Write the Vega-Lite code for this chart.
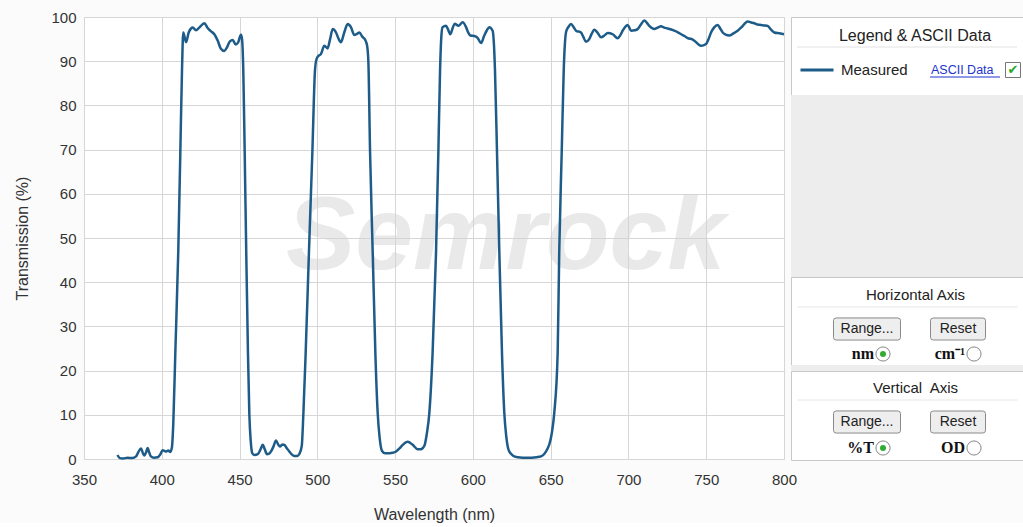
{
  "$schema": "https://vega.github.io/schema/vega-lite/v6.json",
  "background": "#fbfbfb",
  "padding": {"left": 14, "top": 9, "right": 0, "bottom": 0},
  "bounds": "flush",
  "spacing": 7,
  "config": {
    "font": "Liberation Sans",
    "view": {"stroke": null},
    "scale": {"pointPadding": 0},
    "axis": {
      "labelFont": "Liberation Sans", "labelFontSize": 15, "labelColor": "#333333",
      "titleFont": "Liberation Sans", "titleFontSize": 16, "titleFontWeight": "normal", "titleColor": "#333333",
      "grid": true, "gridColor": "#d6d6d6", "gridWidth": 1, "domain": false, "ticks": false,
      "labelFlush": false, "labelOverlap": false, "labelBound": false
    },
    "text": {"font": "Liberation Sans"}
  },
  "datasets": {
    "spectrum": [
      {"wl":371.5,"T":0.9},{"wl":373,"T":0.2},{"wl":375,"T":0.1},{"wl":378,"T":0.3},{"wl":381,"T":0.2},
      {"wl":383.5,"T":0.6},{"wl":385,"T":1.6},{"wl":386.6,"T":2.4},{"wl":388,"T":1.2},{"wl":388.8,"T":0.8},
      {"wl":390,"T":1.6},{"wl":390.9,"T":2.5},{"wl":392,"T":1.4},{"wl":393,"T":0.6},{"wl":395,"T":0.3},
      {"wl":397.4,"T":0.4},{"wl":399,"T":1.0},{"wl":400.6,"T":2.0},{"wl":402.5,"T":1.7},{"wl":404.2,"T":1.9},
      {"wl":405.5,"T":1.6},{"wl":406.5,"T":2.6},{"wl":407.4,"T":8},{"wl":408.7,"T":24},{"wl":410.6,"T":47},
      {"wl":411.9,"T":69},{"wl":413,"T":88},{"wl":413.8,"T":96.5},{"wl":415.6,"T":94.3},{"wl":417.3,"T":96.5},
      {"wl":418.8,"T":97.4},{"wl":420,"T":97.6},{"wl":422,"T":97.0},{"wl":424.1,"T":97.6},{"wl":427.4,"T":98.6},
      {"wl":429.5,"T":97.5},{"wl":431.5,"T":96.8},{"wl":433.8,"T":96.1},{"wl":436,"T":94.6},{"wl":438,"T":92.8},
      {"wl":440.2,"T":92.3},{"wl":442,"T":93.2},{"wl":443.8,"T":94.5},{"wl":445.6,"T":94.8},{"wl":447.5,"T":93.8},
      {"wl":449,"T":94.2},{"wl":450.9,"T":96.0},{"wl":451.6,"T":95.0},{"wl":452.4,"T":88},{"wl":453.3,"T":69.4},
      {"wl":454.3,"T":46.7},{"wl":455.4,"T":24},{"wl":456.3,"T":10},{"wl":457.2,"T":4},{"wl":458.2,"T":1.3},
      {"wl":459.5,"T":0.9},{"wl":461.7,"T":1.1},{"wl":463.5,"T":2.2},{"wl":464.9,"T":3.2},{"wl":466.2,"T":2.2},
      {"wl":467.6,"T":1.1},{"wl":469,"T":1.2},{"wl":470.2,"T":1.7},{"wl":472,"T":3.0},{"wl":473.4,"T":4.2},
      {"wl":474.8,"T":3.3},{"wl":476,"T":2.8},{"wl":477.5,"T":3.3},{"wl":478.8,"T":3.2},{"wl":480.5,"T":2.4},
      {"wl":482,"T":1.7},{"wl":483.7,"T":1.0},{"wl":485.2,"T":0.7},{"wl":487,"T":0.7},{"wl":488.4,"T":1.1},
      {"wl":490,"T":3.0},{"wl":491,"T":10},{"wl":492.5,"T":24},{"wl":494.6,"T":46.7},{"wl":496.8,"T":69.4},
      {"wl":498.5,"T":88},{"wl":499.5,"T":90.5},{"wl":500.7,"T":91.2},{"wl":502.3,"T":91.6},{"wl":504.5,"T":93.5},
      {"wl":506.6,"T":92.9},{"wl":508.2,"T":95.0},{"wl":509.9,"T":97.3},{"wl":512,"T":96.5},{"wl":513.5,"T":95.2},
      {"wl":515.2,"T":94.3},{"wl":517.3,"T":96.5},{"wl":519.5,"T":98.4},{"wl":521.6,"T":97.7},{"wl":523.8,"T":95.9},
      {"wl":525.5,"T":96.2},{"wl":527,"T":96.5},{"wl":529,"T":95.5},{"wl":530.8,"T":94.8},{"wl":532,"T":93.5},
      {"wl":532.8,"T":90},{"wl":533.9,"T":69.4},{"wl":535.6,"T":46.7},{"wl":537.3,"T":24},{"wl":538.8,"T":10.4},
      {"wl":540,"T":5},{"wl":541.6,"T":1.8},{"wl":543.5,"T":1.3},{"wl":546.3,"T":1.3},{"wl":548.5,"T":1.4},
      {"wl":550.6,"T":1.7},{"wl":552.8,"T":2.4},{"wl":554.9,"T":3.2},{"wl":558.1,"T":3.9},{"wl":561.3,"T":3.2},
      {"wl":564.5,"T":2.2},{"wl":566.5,"T":2.2},{"wl":568.8,"T":3.0},{"wl":570.5,"T":6},{"wl":572,"T":10.4},
      {"wl":574.1,"T":24},{"wl":576.3,"T":46.7},{"wl":577.8,"T":69.4},{"wl":578.9,"T":88},{"wl":579.8,"T":96},
      {"wl":580.5,"T":97.7},{"wl":582.7,"T":98.0},{"wl":584,"T":97.2},{"wl":585.5,"T":96.1},{"wl":587,"T":97.5},
      {"wl":588.3,"T":98.5},{"wl":590.7,"T":98.0},{"wl":593.5,"T":98.8},{"wl":595.6,"T":97.7},{"wl":597,"T":96.5},
      {"wl":598.4,"T":95.8},{"wl":600.9,"T":95.7},{"wl":603,"T":95.3},{"wl":605.2,"T":94.1},{"wl":607.3,"T":95.8},
      {"wl":609,"T":97.0},{"wl":610.5,"T":97.7},{"wl":612.7,"T":96.9},{"wl":613.5,"T":94},{"wl":614.2,"T":88},
      {"wl":615.5,"T":69.4},{"wl":617,"T":46.7},{"wl":618.7,"T":24},{"wl":620.2,"T":10.4},{"wl":621.5,"T":5},
      {"wl":623,"T":2},{"wl":625.6,"T":0.8},{"wl":628.8,"T":0.4},{"wl":632,"T":0.3},{"wl":635.2,"T":0.3},
      {"wl":638,"T":0.3},{"wl":641,"T":0.4},{"wl":643.8,"T":0.6},{"wl":646,"T":1.2},{"wl":647.8,"T":2.2},
      {"wl":649.3,"T":3.5},{"wl":650.8,"T":6},{"wl":652.3,"T":10.4},{"wl":654.5,"T":24},{"wl":655.5,"T":46.7},
      {"wl":657.1,"T":69.4},{"wl":658.4,"T":88},{"wl":659.9,"T":96.6},{"wl":661.5,"T":97.8},{"wl":663.1,"T":98.4},
      {"wl":664.8,"T":97.7},{"wl":666.3,"T":96.9},{"wl":669.5,"T":96.5},{"wl":671,"T":95.5},{"wl":672.7,"T":94.4},
      {"wl":674.8,"T":95.0},{"wl":676.5,"T":96.3},{"wl":678,"T":97.1},{"wl":680,"T":96.5},{"wl":682.4,"T":95.4},
      {"wl":684.5,"T":95.8},{"wl":686.7,"T":96.4},{"wl":689.9,"T":96.1},{"wl":693.1,"T":95.2},{"wl":694.8,"T":95.9},
      {"wl":696.3,"T":96.9},{"wl":698,"T":97.8},{"wl":699.5,"T":98.2},{"wl":701.7,"T":96.9},{"wl":704,"T":97.0},
      {"wl":706,"T":97.3},{"wl":708,"T":98.3},{"wl":710.2,"T":99.2},{"wl":712,"T":98.6},{"wl":713.4,"T":98.0},
      {"wl":716.6,"T":97.3},{"wl":718.8,"T":97.6},{"wl":720.9,"T":97.9},{"wl":723,"T":97.6},{"wl":725.2,"T":97.4},
      {"wl":729.5,"T":96.9},{"wl":731.5,"T":96.6},{"wl":733.8,"T":96.1},{"wl":736,"T":95.7},{"wl":738.1,"T":95.2},
      {"wl":741.3,"T":94.9},{"wl":743.5,"T":94.3},{"wl":745,"T":93.8},{"wl":746.7,"T":93.5},{"wl":749.9,"T":93.9},
      {"wl":751.5,"T":95.0},{"wl":753.1,"T":96.5},{"wl":755,"T":97.6},{"wl":757.4,"T":98.2},{"wl":759,"T":97.4},
      {"wl":760.6,"T":96.5},{"wl":762.5,"T":96.0},{"wl":764.8,"T":95.8},{"wl":767.5,"T":96.3},{"wl":770.2,"T":96.9},
      {"wl":773,"T":97.8},{"wl":776.6,"T":99.0},{"wl":778.5,"T":98.8},{"wl":780.9,"T":98.6},{"wl":783,"T":98.3},
      {"wl":785.2,"T":98.2},{"wl":787.5,"T":98.1},{"wl":789.5,"T":98.0},{"wl":791.5,"T":97.2},{"wl":793.8,"T":96.5},
      {"wl":797,"T":96.3},{"wl":800,"T":96.1}
    ]
  },
  "hconcat": [
    {
      "width": 700,
      "height": 442,
      "view": {"fill": "white", "stroke": "#d0d0d0"},
      "layer": [
        {
          "data": {"values": [{"label": "Semrock"}]},
          "mark": {"type": "text", "fontSize": 104, "fontStyle": "italic", "fontWeight": "bold", "color": "#d4d4d4", "opacity": 0.5, "baseline": "middle", "align": "center"},
          "encoding": {
            "x": {"datum": 621, "type": "quantitative", "scale": {"domain": [350, 800], "nice": false, "zero": false}},
            "y": {"datum": 50, "type": "quantitative", "scale": {"domain": [0, 100], "nice": false}},
            "text": {"field": "label"}
          }
        },
        {
          "data": {"name": "spectrum"},
          "mark": {"type": "line", "color": "#1d5c88", "strokeWidth": 2.5, "interpolate": "monotone"},
          "encoding": {
            "x": {"field": "wl", "type": "quantitative", "scale": {"domain": [350, 800], "nice": false, "zero": false},
                  "axis": {"title": "Wavelength (nm)", "values": [350,400,450,500,550,600,650,700,750,800], "labelPadding": 13, "titlePadding": 19}},
            "y": {"field": "T", "type": "quantitative", "scale": {"domain": [0, 100], "nice": false},
                  "axis": {"title": "Transmission (%)", "values": [0,10,20,30,40,50,60,70,80,90,100], "labelPadding": 8, "titlePadding": 20}}
          }
        }
      ]
    },
    {
      "spacing": 0,
      "bounds": "flush",
      "vconcat": [
        {
          "width": 232,
          "height": 78,
          "view": {"fill": "white", "stroke": "#c8c8c8"},
          "data": {"values": [
            {"row": "title", "item": "title", "label": "Legend & ASCII Data"},
            {"row": "entry", "item": "series", "label": "Measured"},
            {"row": "entry", "item": "link", "label": "ASCII Data"},
            {"row": "entry", "item": "check", "label": "✔"}
          ]},
          "encoding": {"y": {"field": "row", "type": "nominal", "scale": {"type": "point", "padding": 0, "domain": ["title", "entry"], "range": [19, 53]}, "axis": null}},
          "layer": [
            {"transform": [{"filter": "datum.item == 'title'"}], "mark": {"type": "text", "fontSize": 16, "color": "#222222", "dx": 8}, "encoding": {"text": {"field": "label"}}},
            {"transform": [{"filter": "datum.item == 'title'"}], "mark": {"type": "point", "shape": "M-1,0H1", "size": 48400, "filled": false, "color": "#e2e2e2", "strokeWidth": 1, "opacity": 1, "yOffset": 11}, "encoding": {}},
            {"transform": [{"filter": "datum.item == 'series'"}], "mark": {"type": "point", "shape": "M-1,0H1", "size": 1089, "filled": false, "color": "#1d5c88", "strokeWidth": 3, "opacity": 1, "xOffset": -90}, "encoding": {}},
            {"transform": [{"filter": "datum.item == 'series'"}], "mark": {"type": "text", "fontSize": 15, "color": "#222222", "align": "left", "dx": -66}, "encoding": {"text": {"field": "label"}}},
            {"transform": [{"filter": "datum.item == 'link'"}], "mark": {"type": "text", "fontSize": 12.5, "color": "#2233cc", "align": "left", "dx": 24}, "encoding": {"text": {"field": "label"}}},
            {"transform": [{"filter": "datum.item == 'link'"}], "mark": {"type": "point", "shape": "M-1,0H1", "size": 4900, "filled": false, "color": "#2233cc", "strokeWidth": 1, "opacity": 1, "xOffset": 58, "yOffset": 7}, "encoding": {}},
            {"transform": [{"filter": "datum.item == 'check'"}], "mark": {"type": "point", "shape": "square", "size": 225, "fill": "white", "stroke": "#777777", "strokeWidth": 1, "opacity": 1, "xOffset": 106}, "encoding": {}},
            {"transform": [{"filter": "datum.item == 'check'"}], "mark": {"type": "text", "fontSize": 13, "font": "DejaVu Sans", "color": "#22aa22", "align": "center", "dx": 106}, "encoding": {"text": {"field": "label"}}}
          ]
        },
        {
          "width": 232,
          "height": 182,
          "view": {"fill": "#ededed", "stroke": null},
          "data": {"values": [{"k": ""}]},
          "mark": {"type": "text", "text": ""}
        },
        {
          "width": 232,
          "height": 88,
          "view": {"fill": "white", "stroke": "#c8c8c8"},
          "data": {"values": [
            {"row": "title", "slot": "center", "label": "Horizontal Axis"},
            {"row": "button", "slot": "left", "label": "Range..."},
            {"row": "button", "slot": "right", "label": "Reset"},
            {"row": "radio", "slot": "left", "label": "nm", "on": true},
            {"row": "radio", "slot": "right", "label": "cm⁻¹", "on": false}
          ]},
          "encoding": {
            "x": {"field": "slot", "type": "nominal", "scale": {"type": "point", "padding": 0, "domain": ["left", "center", "right"], "range": [76, 167]}, "axis": null},
            "y": {"field": "row", "type": "nominal", "scale": {"type": "point", "padding": 0, "domain": ["title", "button", "radio"], "range": [18, 77]}, "axis": null}
          },
          "layer": [
            {"transform": [{"filter": "datum.row == 'title'"}], "mark": {"type": "text", "fontSize": 15, "color": "#222222", "dx": 3}, "encoding": {"text": {"field": "label"}}},
            {"transform": [{"filter": "datum.row == 'title'"}], "mark": {"type": "point", "shape": "M-1,0H1", "size": 48400, "filled": false, "color": "#e6e6e6", "strokeWidth": 1, "opacity": 1, "yOffset": 12, "xOffset": -5}, "encoding": {}},
            {"transform": [{"filter": "datum.row == 'button' && datum.slot == 'left'"}], "mark": {"type": "point", "shape": "M-0.92,-0.33H0.92Q1,-0.33 1,-0.25V0.25Q1,0.33 0.92,0.33H-0.92Q-1,0.33 -1,0.25V-0.25Q-1,-0.33 -0.92,-0.33Z", "size": 4489, "fill": "#eeeeee", "stroke": "#8a8a8a", "strokeWidth": 1, "opacity": 1, "yOffset": 4.5}, "encoding": {}},
            {"transform": [{"filter": "datum.row == 'button' && datum.slot == 'right'"}], "mark": {"type": "point", "shape": "M-0.9,-0.4H0.9Q1,-0.4 1,-0.3V0.3Q1,0.4 0.9,0.4H-0.9Q-1,0.4 -1,0.3V-0.3Q-1,-0.4 -0.9,-0.4Z", "size": 3025, "fill": "#eeeeee", "stroke": "#8a8a8a", "strokeWidth": 1, "opacity": 1, "yOffset": 4.5}, "encoding": {}},
            {"transform": [{"filter": "datum.row == 'button'"}], "mark": {"type": "text", "fontSize": 14, "color": "#222222", "dy": 4.5}, "encoding": {"text": {"field": "label"}}},
            {"transform": [{"filter": "datum.row == 'radio'"}], "mark": {"type": "text", "font": "Liberation Serif", "fontWeight": "bold", "fontSize": 16, "color": "#111111", "align": "right", "dx": 7}, "encoding": {"text": {"field": "label"}}},
            {"transform": [{"filter": "datum.row == 'radio'"}], "mark": {"type": "point", "shape": "circle", "size": 200, "fill": "white", "stroke": "#888888", "strokeWidth": 1, "opacity": 1, "xOffset": 16}, "encoding": {}},
            {"transform": [{"filter": "datum.row == 'radio' && datum.on"}], "mark": {"type": "point", "shape": "circle", "size": 36, "fill": "#33aa33", "strokeWidth": 0, "opacity": 1, "xOffset": 16}, "encoding": {}}
          ]
        },
        {
          "width": 232,
          "height": 6,
          "view": {"fill": "#ededed", "stroke": null},
          "data": {"values": [{"k": ""}]},
          "mark": {"type": "text", "text": ""}
        },
        {
          "width": 232,
          "height": 89,
          "view": {"fill": "white", "stroke": "#c8c8c8"},
          "data": {"values": [
            {"row": "title", "slot": "center", "label": "Vertical\u00a0 Axis"},
            {"row": "button", "slot": "left", "label": "Range..."},
            {"row": "button", "slot": "right", "label": "Reset"},
            {"row": "radio", "slot": "left", "label": "%T", "on": true},
            {"row": "radio", "slot": "right", "label": "OD", "on": false}
          ]},
          "encoding": {
            "x": {"field": "slot", "type": "nominal", "scale": {"type": "point", "padding": 0, "domain": ["left", "center", "right"], "range": [76, 167]}, "axis": null},
            "y": {"field": "row", "type": "nominal", "scale": {"type": "point", "padding": 0, "domain": ["title", "button", "radio"], "range": [17, 77]}, "axis": null}
          },
          "layer": [
            {"transform": [{"filter": "datum.row == 'title'"}], "mark": {"type": "text", "fontSize": 15, "color": "#222222", "dx": 3}, "encoding": {"text": {"field": "label"}}},
            {"transform": [{"filter": "datum.row == 'title'"}], "mark": {"type": "point", "shape": "M-1,0H1", "size": 48400, "filled": false, "color": "#e6e6e6", "strokeWidth": 1, "opacity": 1, "yOffset": 12, "xOffset": -5}, "encoding": {}},
            {"transform": [{"filter": "datum.row == 'button' && datum.slot == 'left'"}], "mark": {"type": "point", "shape": "M-0.92,-0.33H0.92Q1,-0.33 1,-0.25V0.25Q1,0.33 0.92,0.33H-0.92Q-1,0.33 -1,0.25V-0.25Q-1,-0.33 -0.92,-0.33Z", "size": 4489, "fill": "#eeeeee", "stroke": "#8a8a8a", "strokeWidth": 1, "opacity": 1, "yOffset": 4}, "encoding": {}},
            {"transform": [{"filter": "datum.row == 'button' && datum.slot == 'right'"}], "mark": {"type": "point", "shape": "M-0.9,-0.4H0.9Q1,-0.4 1,-0.3V0.3Q1,0.4 0.9,0.4H-0.9Q-1,0.4 -1,0.3V-0.3Q-1,-0.4 -0.9,-0.4Z", "size": 3025, "fill": "#eeeeee", "stroke": "#8a8a8a", "strokeWidth": 1, "opacity": 1, "yOffset": 4}, "encoding": {}},
            {"transform": [{"filter": "datum.row == 'button'"}], "mark": {"type": "text", "fontSize": 14, "color": "#222222", "dy": 4}, "encoding": {"text": {"field": "label"}}},
            {"transform": [{"filter": "datum.row == 'radio'"}], "mark": {"type": "text", "font": "Liberation Serif", "fontWeight": "bold", "fontSize": 16, "color": "#111111", "align": "right", "dx": 7}, "encoding": {"text": {"field": "label"}}},
            {"transform": [{"filter": "datum.row == 'radio'"}], "mark": {"type": "point", "shape": "circle", "size": 200, "fill": "white", "stroke": "#888888", "strokeWidth": 1, "opacity": 1, "xOffset": 16}, "encoding": {}},
            {"transform": [{"filter": "datum.row == 'radio' && datum.on"}], "mark": {"type": "point", "shape": "circle", "size": 36, "fill": "#33aa33", "strokeWidth": 0, "opacity": 1, "xOffset": 16}, "encoding": {}}
          ]
        }
      ]
    }
  ]
}
